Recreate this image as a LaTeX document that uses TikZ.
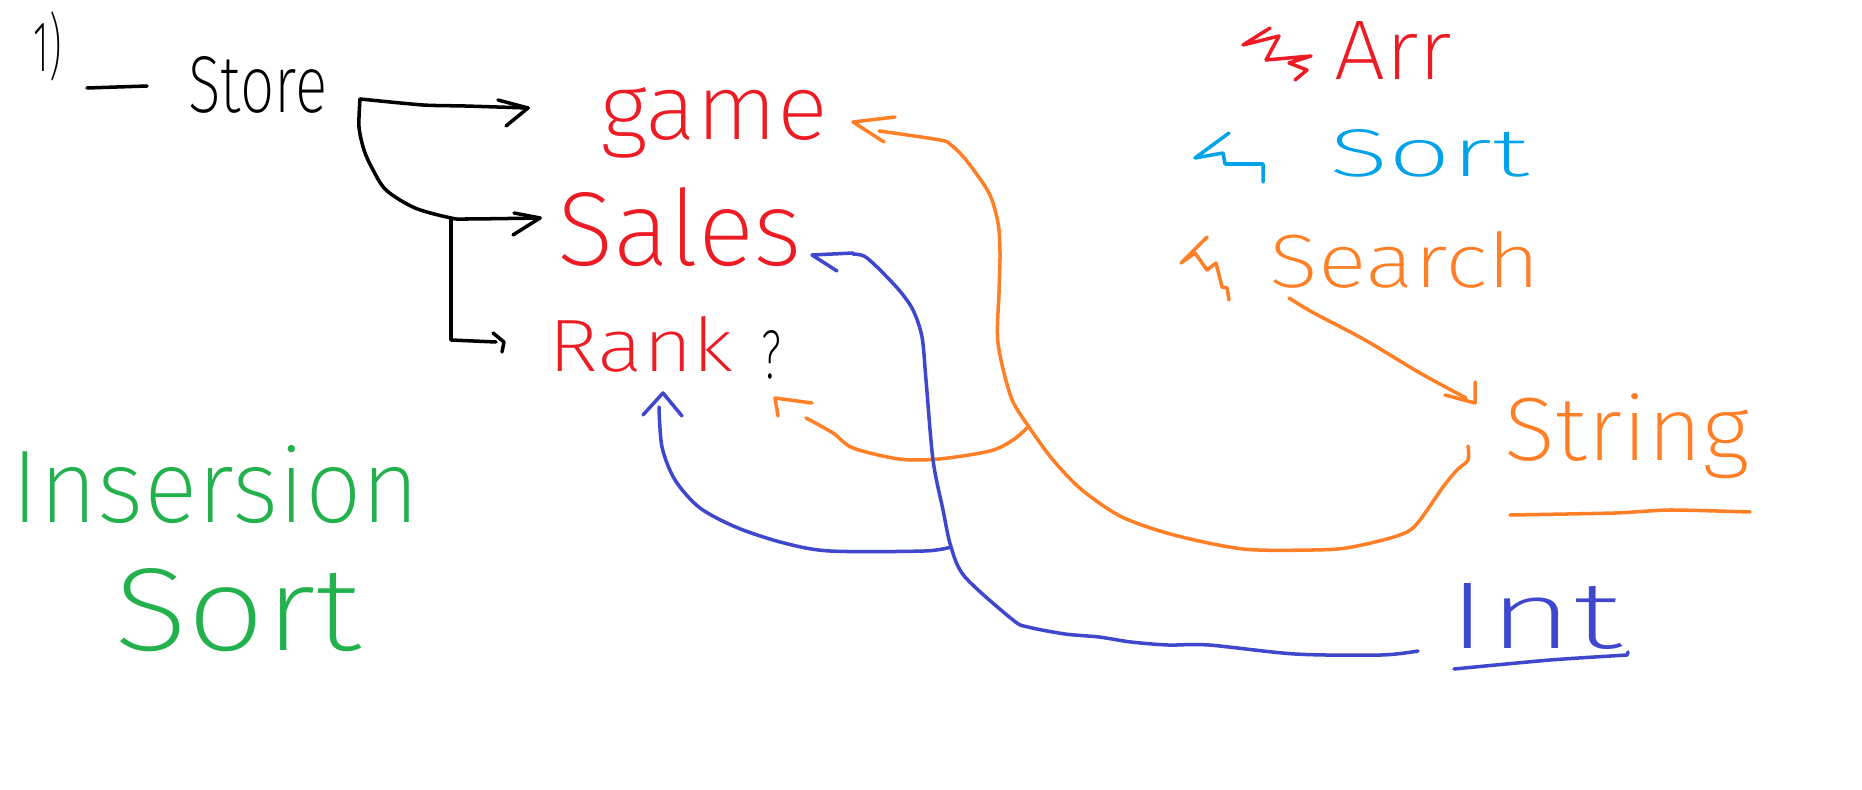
\documentclass[tikz,border=0pt]{standalone}
\usepackage{fontspec}
\usepackage{graphicx}
\IfFontExistsTF{Fira Sans ExtraLight}{\setmainfont{Fira Sans ExtraLight}}{\IfFontExistsTF{Fira Sans Light}{\setmainfont{Fira Sans Light}}{\setmainfont{Fira Sans}}}
\newlength\pxu \setlength\pxu{0.02cm}
\newcommand\hand[3]{\resizebox{#1\pxu}{#2\pxu}{\fontsize{40}{48}\selectfont #3}}
\definecolor{pred}{HTML}{ED1C24}
\definecolor{porange}{HTML}{FF7F27}
\definecolor{pcyan}{HTML}{00A2E8}
\definecolor{pindigo}{HTML}{3F48CC}
\definecolor{pgreen}{HTML}{22B14C}
\begin{document}
\begin{tikzpicture}[x=0.02cm,y=-0.02cm,line cap=round,line join=round,
  txt/.style={inner sep=0pt,outer sep=0pt,anchor=base},
  pen/.style={line width=2pt},
  blk/.style={pen,black},
  org/.style={pen,porange},
  ind/.style={pen,pindigo}]
\useasboundingbox (0,0) rectangle (1862,790);
\fill[white] (0,0) rectangle (1862,790);

% texts
\node[txt] (one) at (48,72) {\hand{28}{60}{1)}};
\node[txt] (store) at (258,113) {\hand{139}{56}{Store}};
\node[txt,text=pred] (game) at (714,140) {\hand{228}{52}{game}};
\node[txt,text=pred] (sales) at (680,266) {\hand{245}{78}{Sales}};
\node[txt,text=pred] (rank) at (641,372) {\hand{185}{55}{Rank}};
\node[txt] (q) at (771,378) {\hand{20}{48}{?}};
\node[txt,text=pred] (arr) at (1393,80) {\hand{118}{58}{Arr}};
\node[txt,text=pcyan] (sort) at (1429,177) {\hand{200}{47}{Sort}};
\node[txt,text=porange] (search) at (1405,288) {\hand{271}{56}{Search}};
\node[txt,text=porange] (string) at (1627,460) {\hand{245}{67}{String}};
\node[txt,text=pindigo] (int) at (1535,648) {\hand{175}{65}{Int}};
\node[txt,text=pgreen] (ins) at (216,522) {\hand{408}{77}{Insersion}};
\node[txt,text=pgreen] (isort) at (238,650) {\hand{247}{82}{Sort}};

% dash and underlines
\draw[blk] (87,88) -- (147,86);
\draw[org] plot[smooth,tension=.4] coordinates {(1510,515) (1615,513) (1670,510) (1750,512)};
\draw[ind] plot[smooth,tension=.4] coordinates {(1454,669) (1550,660) (1627,655)} -- (1628,652);

% bullet zigzags
\draw[pen,pred] (1270,28) -- (1243,45) -- (1279,36) -- (1266,60) -- (1311,56) -- (1289,63) -- (1307,70) -- (1295,80);
\draw[pen,pcyan] (1229,133) -- (1195,158) -- (1223,153) -- (1225,164) -- (1263,164) -- (1263,182);
\draw[org] (1207,237) -- (1181,263) -- (1195,253) -- (1207,270) -- (1216,263) -- (1222,287) -- (1227,288) -- (1229,300);

% black connectors from Store
\coordinate (sOut) at (360,99);
\coordinate (jct) at (451,218);
\coordinate (gameIn) at (528,108);
\coordinate (salesIn) at (540,218);
\coordinate (rankIn) at (504,342);
\draw[blk] plot[smooth,tension=.4] coordinates {(sOut) (423,105) (465,106) (gameIn)};
\draw[blk] (498,100) -- (gameIn) -- (506,126);
\draw[blk] plot[smooth,tension=.5] coordinates {(sOut) (359,127) (364,150) (372,168) (386,190) (415,208) (jct) (467,219) (salesIn)};
\draw[blk] (514,213) -- (salesIn) -- (513,235);
\draw[blk] (jct) -- (451,340) -- (496,342);
\draw[blk] (493,333) -- (rankIn) -- (502,352);

% orange: String -> game
\coordinate (gameTip) at (853,122);
\coordinate (strOut) at (1468,446);
\draw[org] plot[smooth,tension=.5] coordinates {(strOut) (1468,460) (1457,470) (1443,487) (1420,520) (1407,532) (1383,540) (1346,548) (1312,550) (1243,549) (1174,535) (1122,517) (1082,490) (1053,460) (1029,427) (1011,397) (998,343) (999,293) (1000,253) (998,223) (989,193) (966,160) (951,145) (940,140) (879,131)};
\draw[org] (895,117) -- (gameTip) -- (884,142);

% orange: crossing arc -> Rank ?
\coordinate (qTip) at (775,398);
\draw[org] plot[smooth,tension=.5] coordinates {(1028,427) (1013,440) (990,451) (939,459) (899,459) (853,448) (833,433) (806,418)};
\draw[org] (812,403) -- (qTip) -- (778,416);

% orange: Search -> String
\coordinate (srOut) at (1289,298);
\coordinate (strTip) at (1475,403);
\draw[org] plot[smooth,tension=.5] coordinates {(srOut) (1312,312) (1365,340) (1420,373) (1466,398)};
\draw[org] (1445,395) -- (strTip) -- (1475,382);

% indigo: Int -> Sales
\coordinate (salesTip) at (812,255);
\coordinate (intOut) at (1418,651);
\draw[ind] plot[smooth,tension=.5] coordinates {(intOut) (1381,655) (1295,654) (1209,645) (1168,645) (1131,642) (1099,637) (1065,634) (1028,627) (1013,620) (965,577) (951,547) (943,510) (933,460) (926,380) (922,337) (913,310) (899,290) (877,267) (864,256) (853,254)};
\draw[ind] (853,253) -- (salesTip) -- (837,271);

% indigo: junction -> Rank
\coordinate (rankTip) at (663,393);
\draw[ind] plot[smooth,tension=.5] coordinates {(951,547) (924,551) (830,551) (784,543) (738,528) (700,508) (675,480) (662,447) (659,407)};
\draw[ind] (643,415) -- (rankTip) -- (682,416);
\end{tikzpicture}
\end{document}
